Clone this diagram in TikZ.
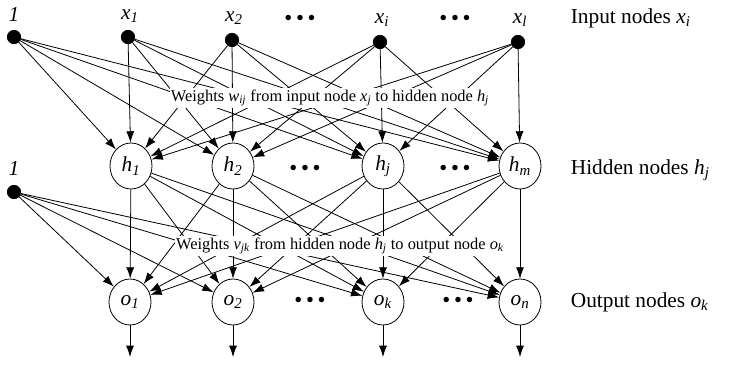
\documentclass[tikz,border=0pt]{standalone}
\usepackage{fontspec}
\setmainfont{Liberation Serif}
\usetikzlibrary{shapes.geometric,arrows.meta}
\newcommand{\nvar}[2]{\textit{#1}\textsubscript{\textit{#2}}}

\begin{document}
\begin{tikzpicture}[x=0.75pt, y=-0.75pt, line width=0.6pt,
    >={Latex[length=8.5pt,width=6pt]},
    dot/.style={circle, draw, fill=black, minimum size=10pt, inner sep=0pt},
    unit/.style={ellipse, draw, fill=white, minimum width=31.5pt, minimum height=34.5pt, inner sep=0pt, font=\fontsize{16}{16}\selectfont},
    lbl/.style={font=\fontsize{16}{16}\selectfont},
    side/.style={anchor=west, font=\fontsize{16}{16}\selectfont},
    gap/.style={font=\fontsize{17}{17}\selectfont},
    note/.style={fill=white, inner sep=1pt, font=\fontsize{12.3}{12.3}\selectfont}]
    \useasboundingbox (0,0) rectangle (730,364);
    % Place nodes
    \node [dot] (in0) at (14,37) {};
    \node [dot] (in1) at (128,37) {};
    \node [dot] (in2) at (232,40) {};
    \node [dot] (ini) at (380,42) {};
    \node [dot] (inl) at (518,42) {};
    \node [lbl] (tin0) at (14,14) {\textit{1}};
    \node [lbl] (tin1) at (130,16) {\nvar{x}{1}};
    \node [lbl] (tin2) at (234,18) {\nvar{x}{2}};
    \node [lbl] (tini) at (382,20) {\nvar{x}{i}};
    \node [lbl] (tinl) at (520,20) {\nvar{x}{l}};
    \node [gap] (gin1) at (300,20) {\textbullet\,\textbullet\,\textbullet};
    \node [gap] (gin2) at (455,20) {\textbullet\,\textbullet\,\textbullet};

    \node [unit] (h1) at (131,166) {\nvar{h}{1}};
    \node [unit] (h2) at (233,166) {\nvar{h}{2}};
    \node [unit] (hj) at (383,166) {\nvar{h}{j}};
    \node [unit] (hm) at (520,166) {\nvar{h}{m}};
    \node [dot] (hb) at (14,192) {};
    \node [lbl] (thb) at (14,168) {\textit{1}};
    \node [gap] (gh1) at (305,170) {\textbullet\,\textbullet\,\textbullet};
    \node [gap] (gh2) at (455,170) {\textbullet\,\textbullet\,\textbullet};

    \node [unit] (o1) at (130,302) {\nvar{o}{1}};
    \node [unit] (o2) at (233,302) {\nvar{o}{2}};
    \node [unit] (ok) at (383,302) {\nvar{o}{k}};
    \node [unit] (on) at (520,302) {\nvar{o}{n}};
    \node [gap] (go1) at (310,302) {\textbullet\,\textbullet\,\textbullet};
    \node [gap] (go2) at (458,302) {\textbullet\,\textbullet\,\textbullet};
    \coordinate (e1) at (130,357);
    \coordinate (e2) at (233,357);
    \coordinate (ek) at (383,357);
    \coordinate (en) at (520,357);

    \node [side] (sin) at (566,18) {Input nodes \nvar{x}{i}};
    \node [side] (shid) at (566,170) {Hidden nodes \nvar{h}{j}};
    \node [side] (sout) at (566,302) {Output nodes \nvar{o}{k}};

    % Connections
    \foreach \s in {in0,in1,in2,ini,inl}
        \foreach \t in {h1,h2,hj,hm}
            \path [draw, ->] (\s) -- (\t);
    \foreach \s in {hb,h1,h2,hj,hm}
        \foreach \t in {o1,o2,ok,on}
            \path [draw, ->] (\s) -- (\t);
    \path [draw, ->] (o1) -- (e1);
    \path [draw, ->] (o2) -- (e2);
    \path [draw, ->] (ok) -- (ek);
    \path [draw, ->] (on) -- (en);

    \node [note] (wlbl) at (330,98) {Weights \nvar{w}{ij} from input node \nvar{x}{j} to hidden node \nvar{h}{j}};
    \node [note] (vlbl) at (340,246) {Weights \nvar{v}{jk} from hidden node \nvar{h}{j} to output node \nvar{o}{k}};
\end{tikzpicture}
\end{document}
